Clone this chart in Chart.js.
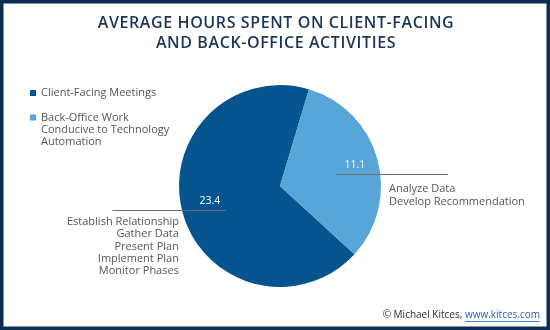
<!DOCTYPE html>
<html>
<head>
<meta charset="utf-8">
<script src="https://cdn.jsdelivr.net/npm/chart.js@4"></script>
<style>
  html, body { margin: 0; padding: 0; background: #fff; }
  #wrap { width: 550px; height: 330px; position: relative; }
</style>
</head>
<body>
<div id="wrap"><canvas id="chart" width="550" height="330"></canvas></div>
<script>
const titleLines = ['AVERAGE HOURS SPENT ON CLIENT-FACING', 'AND BACK-OFFICE ACTIVITIES'];
const categories = ['Client-Facing Meetings', 'Back-Office Work Conducive to Technology Automation'];
const legendLines = [['Client-Facing Meetings'], ['Back-Office Work', 'Conducive to Technology', 'Automation']];
const hours = [23.4, 11.1];
const activityNotes = [
  ['Establish Relationship', 'Gather Data', 'Present Plan', 'Implement Plan', 'Monitor Phases'],
  ['Analyze Data', 'Develop Recommendation'],
];
const sliceColors = ['#06548f', '#57a5d9'];
const sourceText = ['© Michael Kitces, ', 'www.kitces.com'];

const FONT = '"Open Sans", "Noto Sans", sans-serif';
const NAVY = '#0c2d52';
const GREY = '#555555';

// everything around the pie is painted here
const decorations = {
  id: 'decorations',
  afterDraw(chart) {
    const { ctx } = chart;
    ctx.save();

    // frame
    ctx.strokeStyle = NAVY;
    ctx.lineWidth = 4;
    ctx.strokeRect(1.5, 1.5, 547, 327);

    // title
    ctx.fillStyle = '#1b3557';
    ctx.font = `600 16px ${FONT}`;
    ctx.letterSpacing = '0.6px';
    ctx.textAlign = 'center';
    ctx.textBaseline = 'middle';
    titleLines.forEach((t, i) => ctx.fillText(t, 276, 23 + i * 20));
    ctx.letterSpacing = '0px';

    // legend
    ctx.font = `11px ${FONT}`;
    ctx.textAlign = 'left';
    let y = 93;
    legendLines.forEach((lines, i) => {
      ctx.fillStyle = sliceColors[i];
      ctx.fillRect(30, y - 3, 6, 6);
      ctx.fillStyle = GREY;
      lines.forEach((l, j) => ctx.fillText(l, 41, y + j * 12));
      y += lines.length * 12 + 12.5;
    });

    // value labels + leader lines + notes
    const meta = chart.getDatasetMeta(0);
    meta.data.forEach((arc, i) => {
      const p = arc.getProps(['x', 'y', 'startAngle', 'endAngle', 'outerRadius'], true);
      const mid = (p.startAngle + p.endAngle) / 2;
      const left = Math.cos(mid) < 0;
      const r = p.outerRadius * (left ? 0.72 : 0.77);
      const lx = p.x + Math.cos(mid) * r;
      const ly = p.y + Math.sin(mid) * r + (left ? -4 : 0);

      ctx.fillStyle = '#ffffff';
      ctx.font = `10.5px ${FONT}`;
      ctx.textAlign = 'center';
      ctx.fillText(hours[i].toFixed(1), lx, ly);

      const lineY = Math.round(ly + 9) + 0.5;
      ctx.strokeStyle = '#6d6d6d';
      ctx.lineWidth = 1;
      ctx.beginPath();
      if (left) {
        ctx.moveTo(lx + 16, lineY);
        ctx.lineTo(lx - 97, lineY);
      } else {
        ctx.moveTo(lx - 19, lineY);
        ctx.lineTo(lx + 93, lineY);
      }
      ctx.stroke();

      ctx.fillStyle = GREY;
      ctx.font = `11px ${FONT}`;
      const notes = activityNotes[i];
      if (left) {
        ctx.textAlign = 'right';
        notes.forEach((n, j) => ctx.fillText(n, lx - 31, lineY + 11.5 + j * 12.3));
      } else {
        ctx.textAlign = 'left';
        notes.forEach((n, j) => ctx.fillText(n, lx + 34, lineY + 14 + j * 13));
      }
    });

    // source line
    ctx.font = `10px ${FONT}`;
    ctx.textAlign = 'left';
    const w0 = ctx.measureText(sourceText[0]).width;
    const w1 = ctx.measureText(sourceText[1]).width;
    const sx = 540 - w0 - w1;
    ctx.fillStyle = '#2b2b2b';
    ctx.fillText(sourceText[0], sx, 315);
    ctx.fillStyle = '#1d63b8';
    ctx.fillText(sourceText[1], sx + w0, 315);
    ctx.fillRect(sx + w0, 321, w1, 0.8);

    ctx.restore();
  },
};

new Chart(document.getElementById('chart'), {
  type: 'pie',
  data: {
    labels: categories,
    datasets: [{
      data: hours,
      backgroundColor: sliceColors,
      borderWidth: 0,
    }],
  },
  options: {
    responsive: false,
    animation: false,
    rotation: 132.5,
    layout: { padding: { left: 179, right: 169, top: 85, bottom: 43 } },
    plugins: {
      legend: { display: false },
      tooltip: { enabled: false },
      title: { display: false },
    },
  },
  plugins: [decorations],
});
</script>
</body>
</html>
